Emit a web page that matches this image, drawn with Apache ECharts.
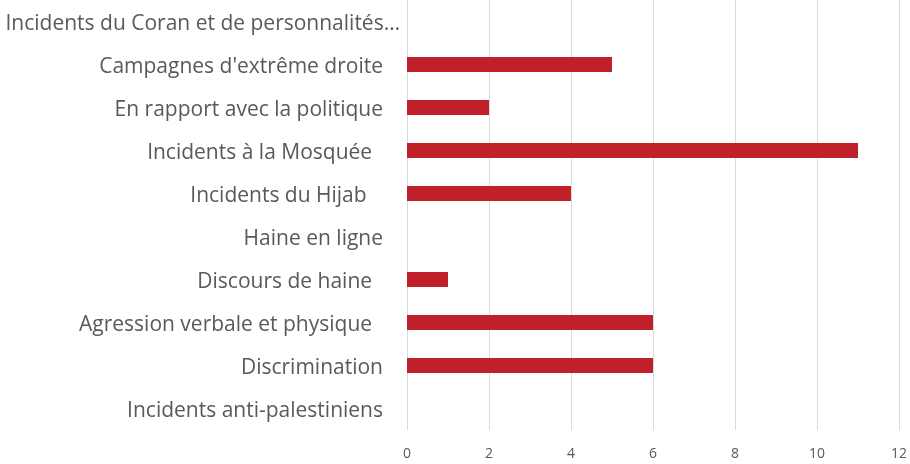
<!DOCTYPE html>
<html>
<head>
<meta charset="utf-8">
<script src="https://cdn.jsdelivr.net/npm/echarts@6/dist/echarts.min.js"></script>
<style>
  html, body { margin: 0; padding: 0; background: #fff; }
  #chart { width: 910px; height: 464px; }
</style>
</head>
<body>
<div id="chart"></div>
<script>
// catégories, de bas en haut (l'axe Y d'ECharts part du bas)
const categories = [
    "Incidents anti-palestiniens",
    "Discrimination",
    "Agression verbale et physique  ",
    "Discours de haine  ",
    "Haine en ligne",
    "Incidents du Hijab   ",
    "Incidents à la Mosquée  ",
    "En rapport avec la politique",
    "Campagnes d'extrême droite",
    "Incidents du Coran et de personnalités…"
];
const values = [0, 6, 6, 1, 0, 4, 11, 2, 5, 0];
const xTicks = [0, 2, 4, 6, 8, 10, 12];

const chart = echarts.init(document.getElementById("chart"));

// grille et barres
const option = {
    animation: false,
    grid: {
        left: 407,
        right: 11,
        top: 0,
        bottom: 34,
        containLabel: false,
        outerBoundsMode: "none"
    },
    xAxis: {
        type: "value",
        min: xTicks[0],
        max: xTicks[xTicks.length - 1],
        interval: 2,
        axisLine: { show: false },
        axisTick: { show: false },
        axisLabel: {
            color: "#595959",
            fontFamily: "Open Sans",
            fontSize: 14,
            margin: 17
        },
        splitLine: {
            lineStyle: { color: "#d9d9d9", width: 1 }
        }
    },
    yAxis: {
        type: "category",
        data: categories,
        axisLine: { show: false },
        axisTick: { show: false },
        axisLabel: {
            color: "#595959",
            fontFamily: "Open Sans",
            fontSize: 21,
            margin: 24,
            padding: [5, 0, 0, 0],
            // le libellé tronqué déborde de la marge, comme dans Excel
            formatter: function (v) {
                return v.endsWith("…") ? "{e|" + v + "}" : v;
            },
            rich: {
                e: {
                    color: "#595959",
                    fontFamily: "Open Sans",
                    fontSize: 21,
                    padding: [0, -17, 0, 0]
                }
            }
        }
    },
    series: [
        {
            type: "bar",
            data: values,
            barWidth: 15,
            itemStyle: { color: "#c0202a" }
        }
    ]
};

chart.setOption(option);
</script>
</body>
</html>
